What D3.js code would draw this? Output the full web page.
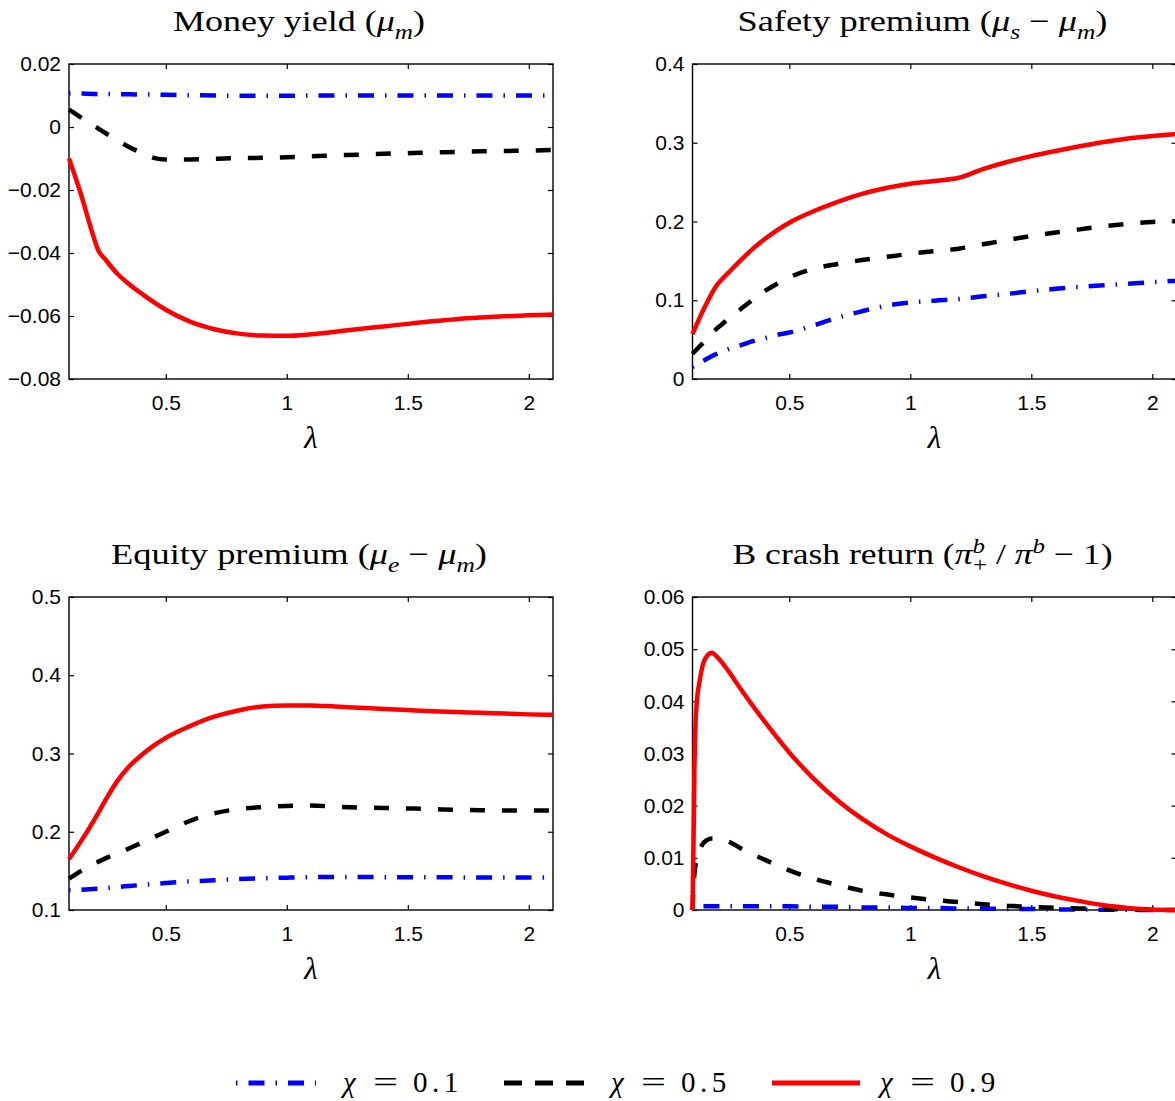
<!DOCTYPE html>
<html>
<head>
<meta charset="utf-8">
<script src="https://cdn.jsdelivr.net/npm/d3@7"></script>
<style>
  html, body { margin: 0; padding: 0; background: #fff; }
  svg { display: block; }
</style>
</head>
<body>
<svg id="chart" width="1175" height="1101"></svg>
<script>
// ---------------- DATA ----------------
const lambdaGrid = [0.1, 0.15, 0.2, 0.22, 0.25, 0.3, 0.35, 0.4, 0.45, 0.5, 0.6, 0.7, 0.8, 0.9, 1.0, 1.1, 1.2, 1.3, 1.4, 1.5, 1.6, 1.7, 1.8, 1.9, 2.0, 2.1];

// Panel 1: Money yield
const moneyChi01 = [0.0106, 0.0106, 0.0105, 0.0105, 0.0105, 0.0104, 0.0104, 0.0103, 0.0103, 0.0102, 0.0101, 0.0100, 0.0099, 0.0099, 0.0099, 0.0100, 0.0100, 0.0100, 0.0100, 0.0100, 0.0100, 0.0100, 0.0100, 0.0100, 0.0100, 0.0100];
const moneyChi05 = [0.0055, 0.0030, 0.0006, -0.0004, -0.0019, -0.0042, -0.0064, -0.0082, -0.0098, -0.0103, -0.0103, -0.0101, -0.0099, -0.0098, -0.0096, -0.0093, -0.0090, -0.0088, -0.0085, -0.0083, -0.0081, -0.0079, -0.0077, -0.0076, -0.0075, -0.0073];
const moneyChi09 = [-0.0100, -0.0215, -0.0345, -0.0390, -0.0420, -0.0466, -0.0500, -0.0529, -0.0556, -0.0580, -0.0618, -0.0642, -0.0656, -0.0662, -0.0663, -0.0658, -0.0650, -0.0641, -0.0633, -0.0625, -0.0617, -0.0610, -0.0605, -0.0601, -0.0598, -0.0595];

// Panel 2: Safety premium
const safetyChi01 = [0.015, 0.024, 0.032, 0.034, 0.038, 0.043, 0.048, 0.052, 0.056, 0.059, 0.068, 0.078, 0.086, 0.093, 0.097, 0.0995, 0.1015, 0.105, 0.108, 0.1115, 0.1145, 0.117, 0.119, 0.121, 0.123, 0.1246];
const safetyChi05 = [0.032, 0.048, 0.064, 0.069, 0.077, 0.089, 0.101, 0.112, 0.121, 0.129, 0.140, 0.146, 0.151, 0.155, 0.159, 0.1625, 0.1655, 0.171, 0.1765, 0.1815, 0.186, 0.190, 0.194, 0.197, 0.1995, 0.2005];
const safetyChi09 = [0.057, 0.091, 0.119, 0.126, 0.1355, 0.151, 0.1655, 0.178, 0.189, 0.1985, 0.213, 0.225, 0.235, 0.2425, 0.248, 0.2515, 0.2555, 0.2665, 0.2755, 0.283, 0.2895, 0.2955, 0.301, 0.3055, 0.3085, 0.311];

// Panel 3: Equity premium
const equityChi01 = [0.1254, 0.126, 0.1268, 0.1272, 0.128, 0.1295, 0.1307, 0.132, 0.1333, 0.1345, 0.1365, 0.138, 0.1395, 0.1405, 0.1413, 0.142, 0.1422, 0.1421, 0.142, 0.1419, 0.1418, 0.1417, 0.1416, 0.1416, 0.1415, 0.1415];
const equityChi05 = [0.140, 0.150, 0.159, 0.1615, 0.166, 0.172, 0.179, 0.186, 0.193, 0.200, 0.214, 0.2235, 0.229, 0.2315, 0.233, 0.2335, 0.232, 0.231, 0.2305, 0.2298, 0.229, 0.228, 0.2275, 0.227, 0.227, 0.227];
const equityChi09 = [0.165, 0.188, 0.213, 0.2235, 0.240, 0.265, 0.284, 0.298, 0.310, 0.320, 0.335, 0.347, 0.355, 0.360, 0.3615, 0.3615, 0.360, 0.3585, 0.357, 0.3555, 0.354, 0.353, 0.352, 0.351, 0.350, 0.3495];

// Panel 4: B crash return (finer grid near the origin)
const lambdaCrash = [0.1, 0.104, 0.108, 0.112, 0.118, 0.128, 0.14, 0.16, 0.18, 0.2, 0.25, 0.3, 0.4, 0.5, 0.6, 0.7, 0.8, 0.9, 1.0, 1.1, 1.2, 1.3, 1.4, 1.5, 1.6, 1.7, 1.8, 1.9, 2.0, 2.1];
const crashChi01 = [0, 0.0003, 0.0005, 0.0006, 0.0007, 0.0007, 0.0007, 0.0007, 0.0007, 0.0007, 0.0007, 0.0007, 0.0007, 0.0007, 0.0006, 0.0006, 0.0005, 0.0005, 0.0004, 0.0004, 0.0003, 0.0003, 0.0002, 0.0002, 0.0001, 0.0001, 0.00005, 0.00003, 0, 0];
const crashChi05 = [0, 0.004, 0.007, 0.0085, 0.0097, 0.0112, 0.0125, 0.0134, 0.0137, 0.0137, 0.0131, 0.0118, 0.0096, 0.0076, 0.0060, 0.0048, 0.0037, 0.0030, 0.0024, 0.0019, 0.0015, 0.0011, 0.0008, 0.0006, 0.0004, 0.0003, 0.0002, 0.0001, 0.00005, 0];
const crashChi09 = [0, 0.012, 0.027, 0.035, 0.040, 0.0435, 0.0465, 0.0487, 0.0493, 0.0486, 0.0457, 0.0423, 0.0360, 0.0302, 0.0252, 0.0210, 0.0175, 0.0146, 0.0122, 0.0101, 0.0082, 0.0065, 0.0050, 0.0037, 0.0026, 0.0017, 0.0009, 0.0004, 0.0001, 0];

// Tick labels
const xTicks = [0.5, 1, 1.5, 2];
const xTickLabels = ["0.5", "1", "1.5", "2"];
const moneyTicks = [0.02, 0, -0.02, -0.04, -0.06, -0.08];
const moneyTickLabels = ["0.02", "0", "\u22120.02", "\u22120.04", "\u22120.06", "\u22120.08"];
const safetyTicks = [0.4, 0.3, 0.2, 0.1, 0];
const safetyTickLabels = ["0.4", "0.3", "0.2", "0.1", "0"];
const equityTicks = [0.5, 0.4, 0.3, 0.2, 0.1];
const equityTickLabels = ["0.5", "0.4", "0.3", "0.2", "0.1"];
const crashTicks = [0.06, 0.05, 0.04, 0.03, 0.02, 0.01, 0];
const crashTickLabels = ["0.06", "0.05", "0.04", "0.03", "0.02", "0.01", "0"];

// Series / legend
const seriesSymbol = ["\u03c7", "\u03c7", "\u03c7"];
const seriesValueText = ["0.1", "0.5", "0.9"];
const seriesColors = ["#0000ff", "#000000", "#ff0000"];

// Titles (rich text segments)
const titleMoney = [{t: "Money yield "}, {t: "("}, {t: "\u03bc", it: 1}, {t: "m", it: 1, sh: "sub"}, {t: ")"}];
const titleSafety = [{t: "Safety premium "}, {t: "("}, {t: "\u03bc", it: 1}, {t: "s", it: 1, sh: "sub"}, {t: " \u2212 "}, {t: "\u03bc", it: 1}, {t: "m", it: 1, sh: "sub"}, {t: ")"}];
const titleEquity = [{t: "Equity premium "}, {t: "("}, {t: "\u03bc", it: 1}, {t: "e", it: 1, sh: "sub"}, {t: " \u2212 "}, {t: "\u03bc", it: 1}, {t: "m", it: 1, sh: "sub"}, {t: ")"}];
const titleCrash = [{t: "B crash return "}, {t: "("}, {t: "\u03c0", it: 1}, {t: "b", it: 1, sh: "sup"}, {t: "+", sh: "sub", back: 10}, {t: " / "}, {t: "\u03c0", it: 1}, {t: "b", it: 1, sh: "sup"}, {t: " \u2212 1)"}];

// ---------------- LAYOUT ----------------
const svg = d3.select("#chart");
svg.append("rect").attr("width", 1175).attr("height", 1101).attr("fill", "#fff");

const panels = [
  {x0: 69, y0: 64, w: 484, h: 315, ydom: [-0.08, 0.02], yt: moneyTicks, ytl: moneyTickLabels, title: titleMoney, tw: 252,
   lam: lambdaGrid, series: [moneyChi01, moneyChi05, moneyChi09]},
  {x0: 692.5, y0: 64, w: 484, h: 315, ydom: [0, 0.4], yt: safetyTicks, ytl: safetyTickLabels, title: titleSafety, tw: 370,
   lam: lambdaGrid, series: [safetyChi01, safetyChi05, safetyChi09]},
  {x0: 69, y0: 597, w: 484, h: 313, ydom: [0.1, 0.5], yt: equityTicks, ytl: equityTickLabels, title: titleEquity, tw: 376,
   lam: lambdaGrid, series: [equityChi01, equityChi05, equityChi09]},
  {x0: 692.5, y0: 597, w: 484, h: 313, ydom: [0, 0.06], yt: crashTicks, ytl: crashTickLabels, title: titleCrash, tw: 380,
   lam: lambdaCrash, series: [crashChi01, crashChi05, crashChi09]}
];

const dashes = ["1.5,11,16,11", "15,17", null];
const widths = [4.5, 4.5, 4.5];
const tickFont = "'Liberation Sans', Arial, Helvetica, sans-serif";
const serifFont = "'Liberation Serif', 'Times New Roman', serif";

function richText(sel, segs, baseSize) {
  let cur = 0;
  segs.forEach(s => {
    let shift = 0, size = baseSize;
    if (s.sh === "sub") { shift = baseSize * 0.25; size = baseSize * 0.7; }
    if (s.sh === "sup") { shift = -baseSize * 0.38; size = baseSize * 0.7; }
    const ts = sel.append("tspan")
      .attr("dy", shift - cur)
      .style("font-size", size + "px")
      .style("font-style", s.it ? "italic" : "normal")
      .text(s.t);
    if (s.back) ts.attr("dx", -s.back);
    cur = shift;
  });
}

panels.forEach(p => {
  const g = svg.append("g").attr("transform", `translate(${p.x0},${p.y0})`);
  const x = d3.scaleLinear().domain([0.1, 2.1]).range([0, p.w]);
  const y = d3.scaleLinear().domain(p.ydom).range([p.h, 0]);

  const fmtX = d => xTickLabels[xTicks.indexOf(d)];
  const fmtY = d => p.ytl[p.yt.indexOf(d)];
  const axB = g.append("g").attr("transform", `translate(0,${p.h})`)
    .call(d3.axisBottom(x).tickValues(xTicks).tickFormat(fmtX).tickSize(-5).tickPadding(16));
  const axT = g.append("g")
    .call(d3.axisTop(x).tickValues(xTicks).tickFormat("").tickSize(-5));
  const axL = g.append("g")
    .call(d3.axisLeft(y).tickValues(p.yt).tickFormat(fmtY).tickSize(-5).tickPadding(8));
  const axR = g.append("g").attr("transform", `translate(${p.w},0)`)
    .call(d3.axisRight(y).tickValues(p.yt).tickFormat("").tickSize(-5));
  [axB, axT, axL, axR].forEach(a => {
    a.select(".domain").remove();
    a.selectAll("line").attr("stroke", "#000").attr("stroke-width", 1.2);
    a.selectAll("text").attr("fill", "#000").style("font-family", tickFont).style("font-size", "21px");
  });

  g.append("rect").attr("width", p.w).attr("height", p.h)
    .attr("fill", "none").attr("stroke", "#000").attr("stroke-width", 1.4);

  p.series.forEach((vals, i) => {
    const line = d3.line().curve(d3.curveMonotoneX).x((d, k) => x(p.lam[k])).y(d => y(d));
    const path = g.append("path").datum(vals)
      .attr("d", line)
      .attr("fill", "none")
      .attr("stroke", seriesColors[i])
      .attr("stroke-width", widths[i])
      .attr("stroke-linejoin", "round")
      .attr("stroke-linecap", "butt");
    if (dashes[i]) path.attr("stroke-dasharray", dashes[i]);
  });

  g.append("text")
    .attr("x", p.w / 2).attr("y", p.h + 69)
    .attr("text-anchor", "middle")
    .style("font-family", serifFont).style("font-style", "italic").style("font-size", "31px")
    .text("\u03bb");

  const t = g.append("text")
    .attr("x", p.w / 2 - 12 - p.tw / 2).attr("y", -33)
    .attr("textLength", p.tw)
    .attr("lengthAdjust", "spacingAndGlyphs")
    .style("font-family", serifFont)
    .style("font-size", "30px");
  richText(t, p.title, 30);
});

// ---------------- LEGEND ----------------
const legendLines = [[236, 316], [504, 584], [772, 860]];
const legendTextX = [343, 611, 880];
const legendDash = ["1.5,11,16,11", "18,13", null];
const lg = svg.append("g");
seriesSymbol.forEach((sym, i) => {
  const ln = lg.append("line")
    .attr("x1", legendLines[i][0]).attr("x2", legendLines[i][1])
    .attr("y1", 1083).attr("y2", 1083)
    .attr("stroke", seriesColors[i]).attr("stroke-width", 5);
  if (legendDash[i]) ln.attr("stroke-dasharray", legendDash[i]);
  const x0 = legendTextX[i];
  const tx = lg.append("text").attr("y", 1092)
    .style("font-family", serifFont).style("font-size", "29px");
  tx.append("tspan").attr("x", x0).style("font-style", "italic").text(sym);
  tx.append("tspan").attr("x", x0 + 30).attr("textLength", 25).attr("lengthAdjust", "spacingAndGlyphs").text("=");
  tx.append("tspan").attr("x", x0 + 70).style("letter-spacing", "4.5px").text(seriesValueText[i]);
});
</script>
</body>
</html>
